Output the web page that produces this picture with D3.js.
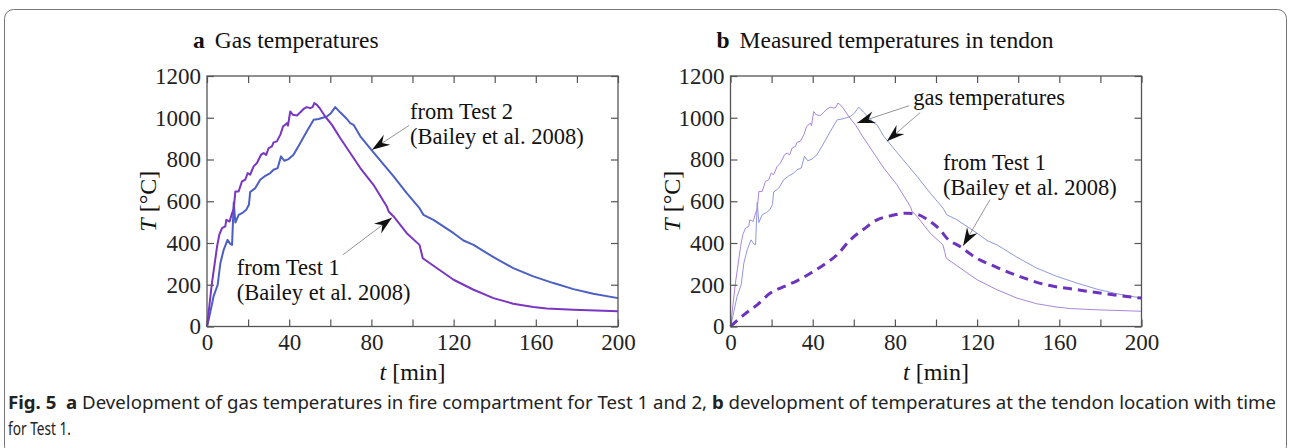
<!DOCTYPE html>
<html>
<head>
<meta charset="utf-8">
<script src="https://cdn.jsdelivr.net/npm/d3@7"></script>
<style>
  body { margin: 0; background: #fff; }
  svg { display: block; }
</style>
</head>
<body>
<script>
// gas temperature, Test 1 [min, °C]
var test1Gas = [[0,0],[2.4,208],[4.9,383],[6,440],[7.3,471],[8.9,480],[9.4,511],[11,503],[12.2,543],[13,562],[13.8,647],[15.4,647],[17,695],[18.6,703],[19.8,735],[21,727],[22.7,767],[24.3,783],[26.3,823],[27.6,831],[28.8,822],[30,855],[31.6,863],[32.4,882],[34,887],[35.7,919],[37,958],[38.9,974],[39.4,962],[40.5,1030],[41.8,1014],[43.8,1011],[45.4,1026],[47,1042],[48.6,1051],[50.2,1046],[51.4,1051],[52.2,1070],[53.5,1062],[55.1,1042],[57.5,1006],[60.8,966],[64.8,903],[69.7,831],[74.6,759],[81,679],[87.5,575],[88.4,551],[90.8,527],[97.2,447],[103.4,391],[104.2,359],[105,327],[110.2,291],[120,224],[129.7,176],[139.4,136],[149,109],[158.8,93],[165.3,86],[178.3,80],[200,73]];

// gas temperature, Test 2
var test2Gas = [[0,0],[0.8,32],[3.2,144],[5.2,200],[6.5,303],[8.1,367],[10,415],[11.3,396],[12.2,391],[13,594],[13.8,498],[15.4,535],[17.5,546],[19.1,559],[20.4,583],[21,644],[23.5,663],[25.9,703],[28.4,722],[30.8,735],[32.4,751],[34.4,759],[36,815],[37.6,794],[39.7,802],[42.1,823],[45.4,879],[48.6,935],[51.9,990],[54.3,994],[58.3,1006],[60.3,1022],[62.4,1051],[64.8,1026],[68.1,994],[69.7,974],[71.3,966],[74.6,911],[81,834],[90.8,719],[97.2,639],[103.4,567],[105.3,535],[110.2,511],[120,447],[124.8,412],[129.7,391],[139.4,332],[149,280],[158.8,240],[168.6,208],[178.3,179],[188,157],[200,136]];

// measured temperature in tendon, Test 1
var test1Tendon = [[0,0],[6.5,56],[13,104],[19.4,160],[25.9,191],[32.4,219],[38.9,255],[45.3,295],[51.8,343],[58.3,415],[64.8,466],[71.3,511],[77.7,530],[85.8,543],[90.7,538],[95.5,514],[102,463],[105.3,423],[111.7,383],[119.8,327],[128,290],[140.9,239],[153.8,199],[166.8,179],[179.8,160],[200,136]];

var xTicks = d3.range(0, 201, 20);
var xLabels = [0, 40, 80, 120, 160, 200];
var yTicks = [0, 200, 400, 600, 800, 1000, 1200];

var W = 1290, H = 448;
var serif = "Liberation Serif, serif";
var svg = d3.select("body").append("svg")
    .attr("width", W).attr("height", H);

// outer rounded frame
svg.append("rect")
    .attr("x", 4.5).attr("y", 9.5)
    .attr("width", 1282).attr("height", 446)
    .attr("rx", 9)
    .attr("fill", "none").attr("stroke", "#777").attr("stroke-width", 1);

var defs = svg.append("defs");
defs.append("marker")
    .attr("id", "arrow")
    .attr("markerUnits", "userSpaceOnUse")
    .attr("viewBox", "-19 -7 21 14")
    .attr("refX", 0).attr("refY", 0)
    .attr("markerWidth", 21).attr("markerHeight", 14)
    .attr("orient", "auto")
    .append("path")
    .attr("d", "M0,0 L-18,-6 L-12,0 L-18,6 Z")
    .attr("fill", "#111");

function styleAxis(a) {
    a.select(".domain").remove();
    a.attr("font-size", 23).attr("font-family", serif);
    a.selectAll(".tick text").attr("fill", "#222");
    a.selectAll(".tick line").attr("stroke", "#555").attr("stroke-width", 1.2);
}

function panel(left, opts) {
    var top = 76, bottom = 326.5, right = left + 411;
    var x = d3.scaleLinear([0, 200], [left, right]);
    var y = d3.scaleLinear([0, 1200], [bottom, top]);
    var g = svg.append("g");

    var line = d3.line().x(d => x(d[0])).y(d => y(d[1]));

    opts.series.forEach(s => {
        line.curve(s.smooth ? d3.curveMonotoneX : d3.curveLinear);
        g.append("path")
            .attr("d", line(s.data))
            .attr("fill", "none")
            .attr("stroke", s.color)
            .attr("stroke-width", s.width)
            .attr("stroke-dasharray", s.dash || null)
            .attr("stroke-linejoin", "round");
    });

    // axes, ticks pointing inward on all four sides
    g.append("g")
        .attr("transform", `translate(0,${bottom})`)
        .call(d3.axisBottom(x).tickValues(xTicks).tickSize(-7).tickSizeOuter(0).tickPadding(7)
            .tickFormat(d => xLabels.includes(d) ? d : ""))
        .call(styleAxis);
    g.append("g")
        .attr("transform", `translate(0,${top})`)
        .call(d3.axisTop(x).tickValues(xTicks).tickSize(-7).tickSizeOuter(0).tickFormat(""))
        .call(styleAxis);
    g.append("g")
        .attr("transform", `translate(${left},0)`)
        .call(d3.axisLeft(y).tickValues(yTicks).tickSize(-7).tickSizeOuter(0).tickPadding(6)
            .tickFormat(d3.format("d")))
        .call(styleAxis);
    g.append("g")
        .attr("transform", `translate(${right},0)`)
        .call(d3.axisRight(y).tickValues(yTicks).tickSize(-7).tickSizeOuter(0).tickFormat(""))
        .call(styleAxis);

    g.append("rect")
        .attr("x", left).attr("y", top)
        .attr("width", right - left).attr("height", bottom - top)
        .attr("fill", "none").attr("stroke", "#555").attr("stroke-width", 1.3);

    // titles
    var title = g.append("text")
        .attr("x", left - 14).attr("y", 48)
        .attr("font-family", serif).attr("font-size", 23.5).attr("fill", "#111");
    title.append("tspan").attr("font-weight", "bold").text(opts.letter);
    title.append("tspan").attr("dx", 10).text(opts.title);

    // axis labels
    var xl = g.append("text")
        .attr("x", (left + right) / 2).attr("y", 380)
        .attr("text-anchor", "middle")
        .attr("font-family", serif).attr("font-size", 24).attr("fill", "#111");
    xl.append("tspan").attr("font-style", "italic").text("t");
    xl.append("tspan").text(" [min]");

    var yl = g.append("text")
        .attr("transform", `translate(${left - 51},${(top + bottom) / 2}) rotate(-90)`)
        .attr("text-anchor", "middle")
        .attr("font-family", serif).attr("font-size", 24).attr("fill", "#111");
    yl.append("tspan").attr("font-style", "italic").text("T");
    yl.append("tspan").text(" [°C]");

    // annotations, one text element per line
    opts.notes.forEach(n => {
        n.lines.forEach((s, i) => {
            g.append("text")
                .attr("x", x(n.at[0])).attr("y", y(n.at[1]) - 1 + i * 25)
                .attr("font-family", serif).attr("font-size", 22.5).attr("fill", "#111")
                .text(s);
        });
    });
    opts.arrows.forEach(a => {
        g.append("line")
            .attr("x1", x(a[0][0])).attr("y1", y(a[0][1]))
            .attr("x2", x(a[1][0])).attr("y2", y(a[1][1]))
            .attr("stroke", "#888").attr("stroke-width", 0.9)
            .attr("marker-end", "url(#arrow)");
    });
}

panel(207, {
    letter: "a", title: "Gas temperatures",
    series: [
        { data: test2Gas, color: "#4b5fc4", width: 2 },
        { data: test1Gas, color: "#7a36c2", width: 2 }
    ],
    notes: [
        { at: [98.8, 991], lines: ["from Test 2", "(Bailey et al. 2008)"] },
        { at: [14.5, 240], lines: ["from Test 1", "(Bailey et al. 2008)"] }
    ],
    arrows: [
        [[98.3, 963], [80.3, 847]],
        [[66.2, 344], [90, 521]]
    ]
});

panel(730.5, {
    letter: "b", title: "Measured temperatures in tendon",
    series: [
        { data: test2Gas, color: "#8f98dc", width: 1 },
        { data: test1Gas, color: "#a985dc", width: 1 },
        { data: test1Tendon, color: "#6c34bc", width: 3, dash: "9,6", smooth: true }
    ],
    notes: [
        { at: [88.9, 1058], lines: ["gas temperatures"] },
        { at: [103.4, 743], lines: ["from Test 1", "(Bailey et al. 2008)"] }
    ],
    arrows: [
        [[87, 1058], [61.6, 975]],
        [[92.3, 1025], [76.1, 887]],
        [[126.3, 608], [113.2, 387]]
    ]
});

// caption
var sans = "Noto Sans, sans-serif";
var cap1 = svg.append("text")
    .attr("x", 8).attr("y", 409)
    .attr("font-family", sans).attr("font-size", 18).attr("fill", "#222")
    .attr("textLength", 1268).attr("lengthAdjust", "spacingAndGlyphs");
cap1.append("tspan").attr("font-weight", "bold").text("Fig. 5");
cap1.append("tspan").text("\u00a0\u00a0");
cap1.append("tspan").attr("font-weight", "bold").text("a");
cap1.append("tspan").text(" Development of gas temperatures in fire compartment for Test 1 and 2, ");
cap1.append("tspan").attr("font-weight", "bold").text("b");
cap1.append("tspan").text(" development of temperatures at the tendon location with time");

svg.append("text")
    .attr("x", 8).attr("y", 435)
    .attr("font-family", sans).attr("font-size", 18).attr("fill", "#222")
    .attr("textLength", 63).attr("lengthAdjust", "spacingAndGlyphs")
    .text("for Test 1.");
</script>
</body>
</html>
